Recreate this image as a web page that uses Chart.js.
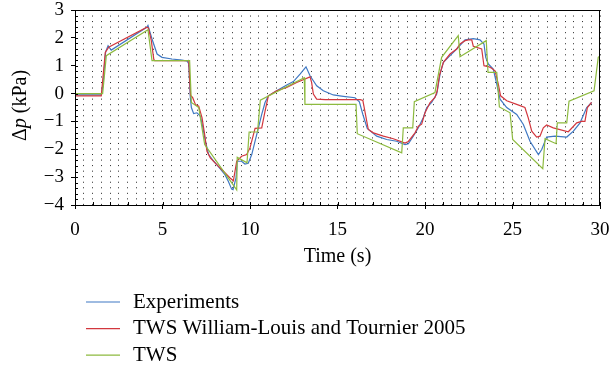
<!DOCTYPE html>
<html>
<head>
<meta charset="utf-8">
<script src="https://cdn.jsdelivr.net/npm/chart.js@4"></script>
<style>
  html, body { margin: 0; padding: 0; background: #fff; }
  #wrap { width: 610px; height: 373px; }
</style>
</head>
<body>
<div id="wrap"><canvas id="grafico"></canvas></div>
<script>
// series names
var seriesNames = ['Experiments', 'TWS William-Louis and Tournier 2005', 'TWS'];

// Experiments (blue)
var expT = [0, 1.5, 1.6, 1.75, 1.89, 2.07, 4.1, 4.17, 4.4, 4.69, 4.97, 5.54, 6.11, 6.4, 6.5, 6.59, 6.65, 6.78, 6.97, 7.16, 7.31, 7.45, 7.64, 7.93, 8.1, 8.57, 8.76, 8.95, 9.03, 9.2, 9.27, 9.52, 9.71, 9.9, 10.1, 10.29, 10.48, 10.67, 10.86, 11.05, 11.52, 12.1, 12.48, 12.86, 13.2, 13.43, 13.81, 14.19, 14.76, 15.33, 16.0, 16.25, 16.45, 16.7, 17.24, 17.81, 18.38, 18.86, 19.05, 19.33, 19.62, 19.9, 20.1, 20.38, 20.67, 20.86, 21.05, 21.43, 21.81, 22.29, 22.76, 23.14, 23.37, 23.47, 23.62, 23.9, 24.1, 24.29, 24.67, 25.24, 25.62, 26.0, 26.48, 26.67, 26.95, 27.43, 28.1, 28.48, 28.86, 29.24, 29.52];
var expP = [-0.05, -0.05, 0.3, 1.5, 1.72, 1.56, 2.38, 2.45, 1.96, 1.42, 1.3, 1.24, 1.2, 1.17, 1.07, -0.14, -0.5, -0.72, -0.69, -0.81, -1.23, -1.71, -2.19, -2.43, -2.55, -2.91, -3.15, -3.43, -3.45, -3.03, -2.43, -2.43, -2.53, -2.5, -2.19, -1.71, -1.23, -0.75, -0.32, -0.08, 0.1, 0.31, 0.43, 0.7, 0.96, 0.64, 0.28, 0.1, -0.05, -0.1, -0.15, -0.3, -0.75, -1.25, -1.53, -1.65, -1.71, -1.83, -1.8, -1.53, -1.23, -0.87, -0.5, -0.32, -0.02, 0.7, 1.12, 1.36, 1.6, 1.93, 1.97, 1.93, 1.78, 1.3, 1.06, 0.88, 0.34, -0.2, -0.5, -0.75, -1.11, -1.71, -2.19, -2.01, -1.56, -1.53, -1.56, -1.35, -1.05, -0.5, -0.32];

// TWS William-Louis and Tournier 2005 (red)
var refT = [0, 1.5, 1.73, 1.92, 4.11, 4.2, 4.36, 4.5, 4.55, 6.5, 6.6, 6.72, 6.88, 7.07, 7.26, 7.41, 7.54, 7.73, 8.1, 8.48, 8.86, 9.05, 9.24, 9.52, 9.81, 10.0, 10.29, 10.67, 10.86, 11.05, 11.52, 12.1, 12.67, 13.43, 13.52, 13.62, 13.81, 14.3, 16.3, 16.45, 16.76, 17.05, 17.62, 18.19, 18.86, 19.05, 19.43, 19.62, 19.81, 20.0, 20.29, 20.57, 20.7, 20.82, 21.05, 21.43, 21.81, 22.0, 22.29, 22.48, 22.67, 22.76, 23.24, 23.37, 23.62, 23.81, 24.0, 24.19, 24.32, 24.67, 25.24, 25.71, 25.9, 26.1, 26.38, 26.57, 26.76, 26.95, 27.33, 28.19, 28.67, 28.95, 29.14, 29.28, 29.52];
var refP = [-0.08, -0.08, 1.48, 1.66, 2.38, 2.35, 1.9, 1.24, 1.18, 1.18, -0.07, -0.14, -0.39, -0.45, -0.87, -1.47, -2.07, -2.31, -2.55, -2.79, -3.03, -3.13, -2.43, -2.25, -2.19, -1.95, -1.25, -1.23, -0.63, -0.08, 0.1, 0.22, 0.4, 0.6, 0.4, -0.02, -0.2, -0.22, -0.22, -0.25, -1.29, -1.41, -1.53, -1.62, -1.78, -1.72, -1.41, -1.17, -1.1, -0.69, -0.32, -0.14, 0.1, 0.64, 1.12, 1.42, 1.6, 1.78, 1.9, 1.93, 1.93, 1.7, 1.6, 1.0, 0.97, 0.91, 0.82, 0.34, -0.08, -0.26, -0.39, -0.5, -0.87, -1.35, -1.56, -1.53, -1.23, -1.13, -1.23, -1.37, -1.05, -1.0, -1.0, -0.5, -0.32];

// TWS (green)
var twsT = [0, 1.58, 1.79, 4.17, 4.4, 6.55, 6.65, 7.07, 7.41, 9.24, 9.27, 9.83, 9.95, 10.43, 10.59, 13.1, 13.14, 16.06, 16.13, 18.67, 18.76, 19.3, 19.39, 20.57, 20.95, 21.9, 22.0, 23.5, 23.6, 24.1, 24.25, 24.86, 25.01, 26.73, 26.86, 27.49, 27.56, 28.1, 28.23, 29.66, 29.9, 30];
var twsP = [0, 0, 1.36, 2.29, 1.18, 1.18, -0.32, -0.5, -1.83, -3.46, -2.29, -2.48, -1.38, -1.38, -0.24, 0.57, -0.39, -0.39, -1.44, -2.13, -1.23, -1.23, -0.29, 0.04, 1.3, 2.08, 1.32, 1.9, 0.76, 0.76, -0.48, -0.69, -1.65, -2.7, -1.62, -1.8, -1.05, -1.05, -0.27, 0.1, 1.3, 1.35];

var colores = ['#3f78c3', '#d2373e', '#8dba3f'];
var fuente = '"Liberation Serif", "DejaVu Serif", serif';

function puntos(ts, ps) {
    return ts.map(function (t, i) { return {x: t, y: ps[i]}; });
}

function esEntero(v) {
    return Math.abs(v - Math.round(v)) < 1e-6;
}

Chart.defaults.font.family = fuente;
Chart.defaults.font.size = 19;
Chart.defaults.color = '#000';

// marco, marcas menores hacia dentro, titulo del eje y y leyenda
var extras = {
    id: 'extras',
    afterDraw: function (chart) {
        var ctx = chart.ctx, a = chart.chartArea;
        var sx = chart.scales.x, sy = chart.scales.y;
        ctx.save();
        ctx.strokeStyle = '#000';
        ctx.lineWidth = 1;
        ctx.strokeRect(a.left + 0.5, a.top + 0.5, a.right - a.left - 1, a.bottom - a.top);
        ctx.beginPath();
        sy.ticks.forEach(function (t) {
            var y = Math.round(sy.getPixelForValue(t.value)) + 0.5;
            ctx.moveTo(a.left, y);
            ctx.lineTo(a.left + 3, y);
        });
        sx.ticks.forEach(function (t) {
            if (!esEntero(t.value)) return;
            var x = Math.round(sx.getPixelForValue(t.value)) + 0.5;
            ctx.moveTo(x, a.bottom);
            ctx.lineTo(x, a.bottom - 3);
        });
        ctx.stroke();

        // titulo eje y: Δp (kPa) con p en cursiva
        var partes = [['Δ', ''], ['p', 'italic '], [' (kPa)', '']];
        var total = 0;
        partes.forEach(function (p) {
            ctx.font = p[1] + '20px ' + fuente;
            total += ctx.measureText(p[0]).width;
        });
        ctx.translate(21, (a.top + a.bottom) / 2 - 2);
        ctx.rotate(-Math.PI / 2);
        ctx.textBaseline = 'middle';
        ctx.textAlign = 'left';
        ctx.fillStyle = '#000';
        var px = -total / 2;
        partes.forEach(function (p) {
            ctx.font = p[1] + '20px ' + fuente;
            ctx.fillText(p[0], px, 0);
            px += ctx.measureText(p[0]).width;
        });
        ctx.setTransform(1, 0, 0, 1, 0, 0);

        // leyenda
        ctx.font = '21px ' + fuente;
        ctx.textBaseline = 'middle';
        chart.data.datasets.forEach(function (ds, i) {
            var y = 302 + i * 26.6;
            ctx.beginPath();
            ctx.strokeStyle = ds.borderColor;
            ctx.lineWidth = 1.2;
            ctx.moveTo(86, y);
            ctx.lineTo(120, y);
            ctx.stroke();
            ctx.fillText(ds.label, 133, y);
        });
        ctx.restore();
    }
};

var ctx = document.getElementById('grafico').getContext('2d');
new Chart(ctx, {
    type: 'line',
    data: {
        datasets: [
            {label: seriesNames[0], data: puntos(expT, expP), borderColor: colores[0], order: 2},
            {label: seriesNames[1], data: puntos(refT, refP), borderColor: colores[1], order: 1},
            {label: seriesNames[2], data: puntos(twsT, twsP), borderColor: colores[2], order: 0}
        ]
    },
    options: {
        responsive: true,
        maintainAspectRatio: false,
        animation: false,
        datasets: {
            line: {borderWidth: 1.2, pointRadius: 0, tension: 0, fill: false}
        },
        layout: {padding: {top: 10, right: 10, left: 0, bottom: 104}},
        plugins: {
            legend: {display: false},
            tooltip: {enabled: false}
        },
        scales: {
            x: {
                type: 'linear',
                min: 0,
                max: 30,
                afterFit: function (s) { s.height = 64; s.paddingLeft = 0; s.paddingRight = 0; },
                ticks: {
                    stepSize: 0.5,
                    autoSkip: false,
                    maxRotation: 0,
                    padding: 10,
                    callback: function (v) { return v % 5 === 0 ? String(v) : ''; }
                },
                grid: {
                    color: 'rgba(0,0,0,0.85)',
                    lineWidth: 1,
                    tickLength: 4,
                    tickColor: function (c) { return c.tick && c.tick.value % 5 === 0 ? '#000' : 'rgba(0,0,0,0)'; }
                },
                border: {display: true, color: '#000', width: 1, dash: [1, 4.54]},
                title: {display: true, text: 'Time (s)', font: {size: 20}, padding: {top: 0, bottom: 0}}
            },
            y: {
                min: -4,
                max: 3,
                afterFit: function (s) { s.width = 75; s.paddingTop = 0; s.paddingBottom = 0; },
                ticks: {
                    stepSize: 0.2,
                    autoSkip: false,
                    padding: 7,
                    callback: function (v) {
                        if (!esEntero(v)) return '';
                        var n = Math.round(v);
                        return n < 0 ? '\u2212' + Math.abs(n) : String(n);
                    }
                },
                grid: {
                    drawOnChartArea: false,
                    tickLength: 4,
                    tickColor: function (c) { return c.tick && esEntero(c.tick.value) ? '#000' : 'rgba(0,0,0,0)'; }
                },
                border: {display: true, color: '#000', width: 1},
                title: {display: false}
            }
        }
    },
    plugins: [extras]
});
</script>
</body>
</html>
